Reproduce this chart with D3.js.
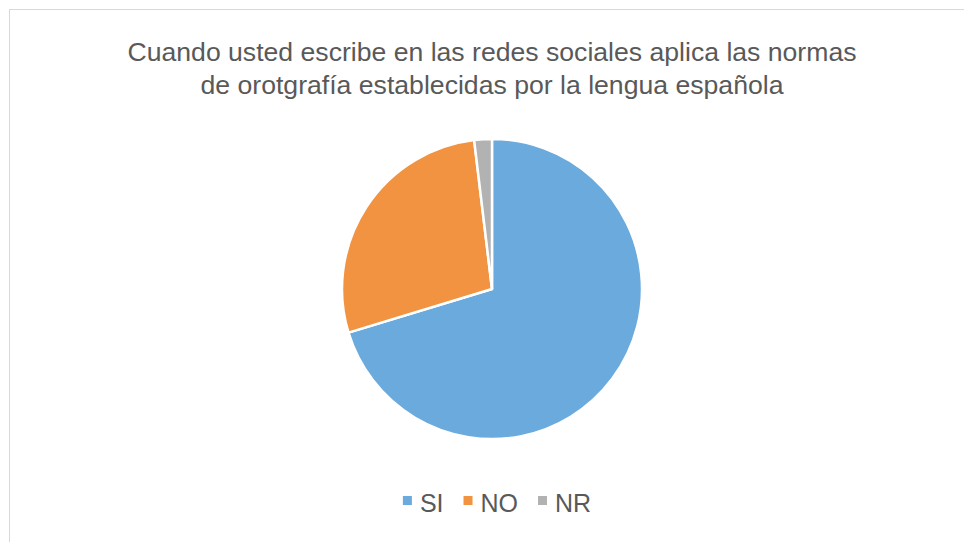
<!DOCTYPE html>
<html>
<head>
<meta charset="utf-8">
<script src="https://cdn.jsdelivr.net/npm/d3@7"></script>
<style>
  html, body { margin: 0; padding: 0; background: #fff; }
  svg { display: block; }
</style>
</head>
<body>
<svg id="chart" width="964" height="542"></svg>
<script>
const titleLines = ["Cuando usted escribe en las redes sociales aplica las normas",
                    "de orotgrafía establecidas por la lengua española"];
const categories = ["SI", "NO", "NR"];
const values = [70.3, 27.8, 1.9];
const colors = ["#6aaadc", "#f19340", "#b2b2b2"];

const svg = d3.select("#chart");
const W = 964, H = 542;

svg.append("rect")
  .attr("x", 9.5).attr("y", 9.5)
  .attr("width", W).attr("height", H)
  .attr("fill", "#fff").attr("stroke", "#d9d9d9").attr("stroke-width", 1);

const font = "'Liberation Sans', Arial, sans-serif";
const titleWidths = [729, 583];

svg.append("g").selectAll("text")
  .data(titleLines).join("text")
  .attr("x", 492).attr("y", (d, i) => 61 + i * 33)
  .attr("text-anchor", "middle")
  .attr("font-family", font).attr("font-size", 25.5)
  .attr("fill", "#595959")
  .attr("textLength", (d, i) => titleWidths[i])
  .attr("lengthAdjust", "spacingAndGlyphs")
  .text(d => d);

const data = categories.map((c, i) => ({ cat: c, value: values[i] }));
const pie = d3.pie().value(d => d.value).sort(null);
const arc = d3.arc().innerRadius(0).outerRadius(150);
const color = d3.scaleOrdinal().domain(categories).range(colors);

svg.append("g")
  .attr("transform", "translate(492,289)")
  .selectAll("path")
  .data(pie(data)).join("path")
  .attr("d", arc)
  .attr("fill", d => color(d.data.cat))
  .attr("stroke", "#fff").attr("stroke-width", 2.5)
  .attr("stroke-linejoin", "round");

// legend
const legend = svg.append("g");
const items = legend.selectAll("g").data(categories).join("g");
items.append("rect").attr("width", 9).attr("height", 9)
  .attr("y", -16)
  .attr("fill", d => color(d));
items.append("text")
  .attr("x", 17).attr("y", 0)
  .attr("font-family", font).attr("font-size", 25)
  .attr("fill", "#595959")
  .text(d => d);
let xs = [];
const gap = 20;
items.each(function() { xs.push(this.getBBox().width); });
const total = d3.sum(xs) + gap * (xs.length - 1);
const x0 = 497 - total / 2;
items.attr("transform", (d, i) => {
  const x = x0 + d3.sum(xs.slice(0, i)) + gap * i;
  return `translate(${x},512)`;
});
</script>
</body>
</html>
